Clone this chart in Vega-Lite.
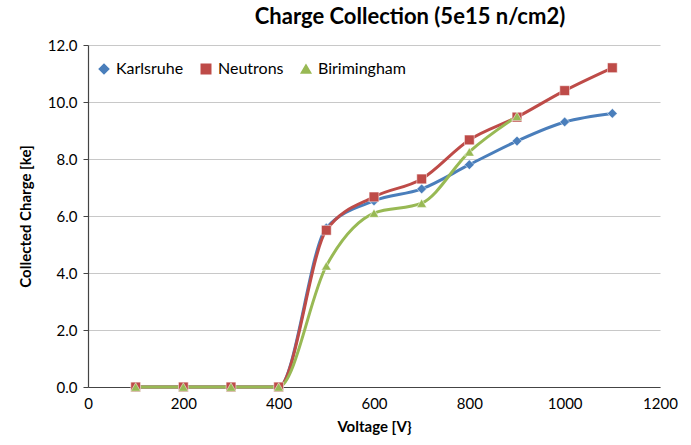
{
  "$schema": "https://vega.github.io/schema/vega-lite/v6.json",
  "width": 572,
  "height": 342,
  "autosize": {"type": "none"},
  "padding": {"left": 88, "top": 45, "right": 31, "bottom": 58},
  "background": "white",
  "title": {"text": "Charge Collection (5e15 n/cm2)", "font": "Lato", "fontSize": 22, "fontWeight": "bold", "color": "#000000", "anchor": "middle", "dx": 36, "offset": 9},
  "config": {
    "view": {"stroke": null},
    "font": "Lato"
  },
  "data": {"values": [
    {"series": "Karlsruhe", "v": 100, "q": 0}, {"series": "Karlsruhe", "v": 200, "q": 0}, {"series": "Karlsruhe", "v": 300, "q": 0}, {"series": "Karlsruhe", "v": 400, "q": 0},
    {"series": "Karlsruhe", "v": 500, "q": 5.58}, {"series": "Karlsruhe", "v": 600, "q": 6.53}, {"series": "Karlsruhe", "v": 700, "q": 6.95}, {"series": "Karlsruhe", "v": 800, "q": 7.8},
    {"series": "Karlsruhe", "v": 900, "q": 8.63}, {"series": "Karlsruhe", "v": 1000, "q": 9.3}, {"series": "Karlsruhe", "v": 1100, "q": 9.6},
    {"series": "Neutrons", "v": 100, "q": 0}, {"series": "Neutrons", "v": 200, "q": 0}, {"series": "Neutrons", "v": 300, "q": 0}, {"series": "Neutrons", "v": 400, "q": 0},
    {"series": "Neutrons", "v": 500, "q": 5.5}, {"series": "Neutrons", "v": 600, "q": 6.67}, {"series": "Neutrons", "v": 700, "q": 7.3}, {"series": "Neutrons", "v": 800, "q": 8.67},
    {"series": "Neutrons", "v": 900, "q": 9.47}, {"series": "Neutrons", "v": 1000, "q": 10.4}, {"series": "Neutrons", "v": 1100, "q": 11.2},
    {"series": "Birimingham", "v": 100, "q": 0}, {"series": "Birimingham", "v": 200, "q": 0}, {"series": "Birimingham", "v": 300, "q": 0}, {"series": "Birimingham", "v": 400, "q": 0},
    {"series": "Birimingham", "v": 500, "q": 4.25}, {"series": "Birimingham", "v": 600, "q": 6.1}, {"series": "Birimingham", "v": 700, "q": 6.45}, {"series": "Birimingham", "v": 800, "q": 8.25},
    {"series": "Birimingham", "v": 900, "q": 9.5}
  ]},
  "encoding": {
    "x": {"field": "v", "type": "quantitative", "scale": {"domain": [0, 1200], "nice": false},
      "axis": {"title": "Voltage [V}", "titleFont": "Lato", "titleFontSize": 15, "titleFontWeight": "bold", "titleColor": "#000", "titlePadding": 8,
        "values": [0, 200, 400, 600, 800, 1000, 1200], "format": "d", "labelFontSize": 15, "labelColor": "#000", "labelPadding": 9, "ticks": false, "grid": false,
        "domainColor": "#444", "domainWidth": 1.2, "labelFlush": false}},
    "y": {"field": "q", "type": "quantitative", "scale": {"domain": [0, 12], "nice": false},
      "axis": {"title": "Collected Charge [ke]", "titleFont": "Lato", "titleFontSize": 15, "titleFontWeight": "bold", "titleColor": "#000", "titlePadding": 14,
        "values": [0, 2, 4, 6, 8, 10, 12], "format": ".1f", "labelFontSize": 15, "labelColor": "#000", "labelPadding": 6, "tickSize": 5, "tickColor": "#444",
        "grid": true, "gridColor": "#c8c8c8", "gridWidth": 1.2, "domainColor": "#444", "domainWidth": 1.2}},
    "color": {"field": "series", "type": "nominal", "scale": {"domain": ["Karlsruhe", "Neutrons", "Birimingham"], "range": ["#4a7ebb", "#be4b48", "#98b954"]},
      "legend": {"title": null, "orient": "none", "legendX": 8, "legendY": 16, "direction": "horizontal", "labelFontSize": 16, "labelColor": "#000", "columnPadding": 14, "symbolSize": 90}}
  },
  "layer": [
    {"mark": {"type": "line", "interpolate": "monotone", "strokeWidth": 3}, "encoding": {"detail": {"field": "series"}}},
    {"mark": {"type": "point", "filled": true, "size": 95, "opacity": 1, "stroke": "white", "strokeWidth": 0.5},
      "encoding": {"shape": {"field": "series", "type": "nominal", "scale": {"domain": ["Karlsruhe", "Neutrons", "Birimingham"], "range": ["diamond", "square", "triangle-up"]}, "legend": null}}}
  ]
}
